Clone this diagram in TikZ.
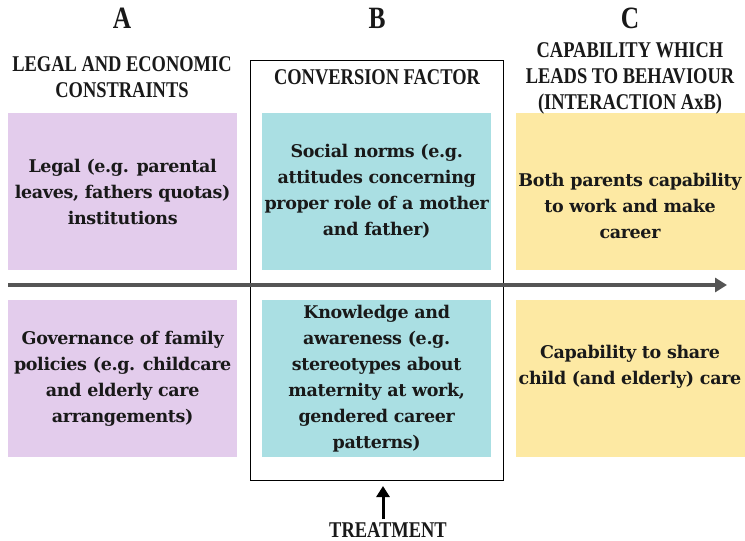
\documentclass[tikz,border=0pt]{standalone}
\usepackage{fontspec}
\usetikzlibrary{arrows.meta}
\newfontfamily\bodyfont[LetterSpace=-2]{DejaVu Serif}
\newfontfamily\headfont[FakeStretch=0.82]{Liberation Serif}
\definecolor{lilac}{RGB}{227,204,236}
\definecolor{teal}{RGB}{170,223,227}
\definecolor{sand}{RGB}{253,233,163}
\definecolor{arrowgray}{RGB}{85,85,85}
\tikzset{
  cell/.style={draw=none, minimum width=229pt, minimum height=157pt, inner sep=0pt},
  body/.style={font=\bodyfont\bfseries\fontsize{17.5}{26}\selectfont, align=center, text=black!90},
  head/.style={font=\headfont\bfseries\fontsize{22.5}{26}\selectfont, align=center, text=black!90},
  letter/.style={font=\headfont\bfseries\fontsize{31}{31}\selectfont, text=black!90},
}
\begin{document}
\begin{tikzpicture}[x=1pt,y=-1pt]
\useasboundingbox (0,0) rectangle (745,541);
% cells
\node[cell, fill=lilac, anchor=north west] (a1) at (8,113) {};
\node[cell, fill=lilac, anchor=north west] (a2) at (8,300) {};
\node[cell, fill=teal, anchor=north west] (b1) at (262,113) {};
\node[cell, fill=teal, anchor=north west] (b2) at (262,300) {};
\node[cell, fill=sand, anchor=north west] (c1) at (516,113) {};
\node[cell, fill=sand, anchor=north west] (c2) at (516,300) {};
% frame
\node[draw=black, line width=1.2pt, minimum width=253pt, minimum height=420pt, inner sep=0pt, anchor=north west] (frame) at (250,60) {};
% main arrow
\coordinate (s) at (8,285);
\coordinate (e) at (727,285);
\draw[arrowgray, line width=4pt, -{Triangle[length=12pt,width=14pt]}] (s) -- (e);
% letters
\node[letter] (la) at (122,18) {A};
\node[letter] (lb) at (377,18) {B};
\node[letter] (lc) at (630,18) {C};
% headings
\node[head] (ha) at (122,77) {LEGAL AND ECONOMIC\\CONSTRAINTS};
\node[head] (hb) at (377,77) {CONVERSION FACTOR};
\node[head] (hc) at (630,78) {CAPABILITY WHICH\\LEADS TO BEHAVIOUR\\(INTERACTION AxB)};
% texts
\node[body] (ta1) at (a1.center) {Legal (e.g. parental\\leaves, fathers quotas)\\institutions};
\node[body] (ta2) at (a2.center) {Governance of family\\policies (e.g. childcare\\and elderly care\\arrangements)};
\node[body] (tb1) at (b1.center) {Social norms (e.g.\\attitudes concerning\\proper role of a mother\\and father)};
\node[body] (tb2) at (b2.center) {Knowledge and\\awareness (e.g.\\stereotypes about\\maternity at work,\\gendered career\\patterns)};
\node[body] (tc1) at (630,206) {Both parents capability\\to work and make\\career};
\node[body] (tc2) at (630,367) {Capability to share\\child (and elderly) care};
% treatment
\node[head] (tr) at (388,530) {TREATMENT};
\coordinate (trtop) at (383,486);
\coordinate (trbot) at (383,519);
\draw[black, line width=3pt, -{Triangle[length=11pt,width=13pt]}] (trbot) -- (trtop);
\end{tikzpicture}
\end{document}
